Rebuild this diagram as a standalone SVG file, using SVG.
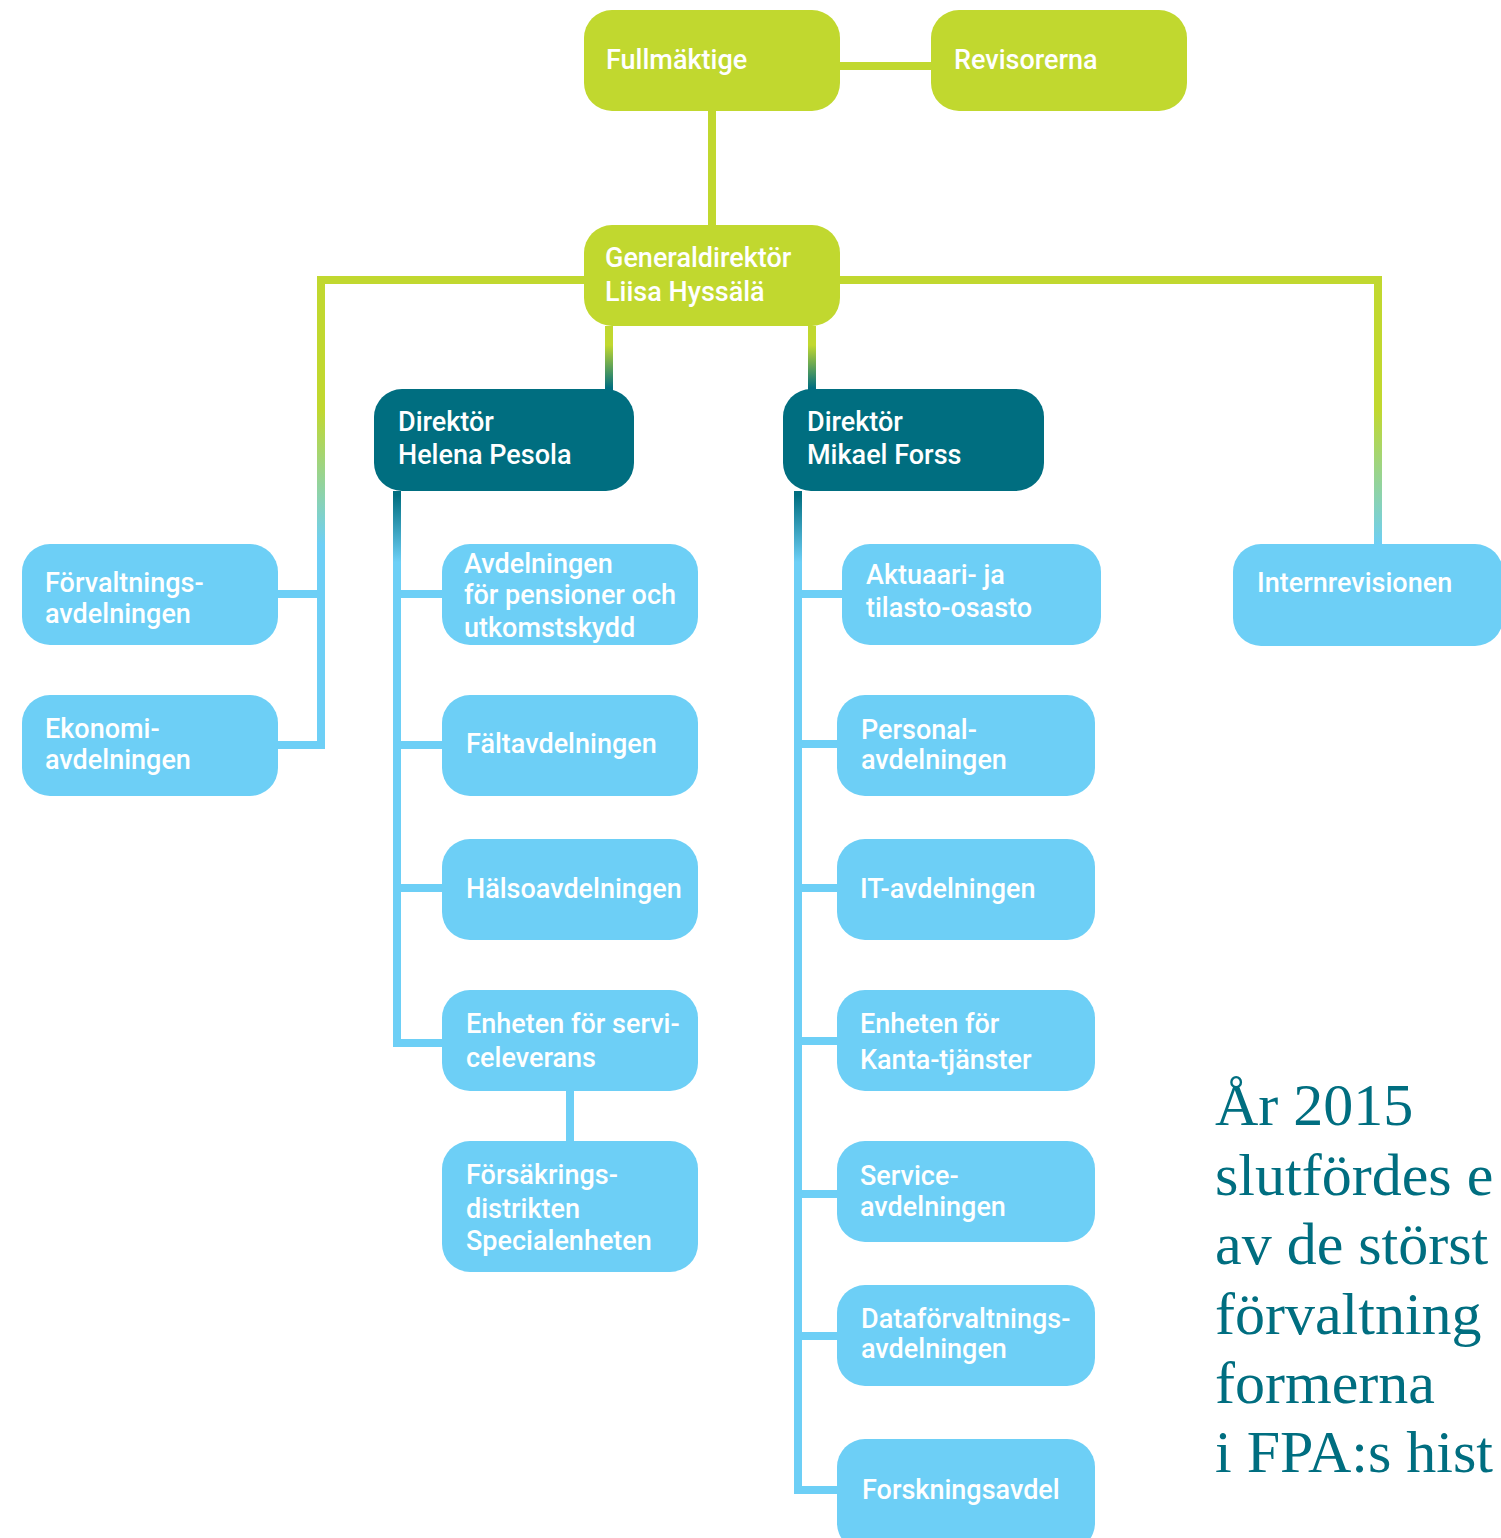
<svg xmlns="http://www.w3.org/2000/svg" width="1501" height="1538" viewBox="0 0 1501 1538">
<style>
.lime{fill:#c1d82f}
.dark{fill:#006e80}
.blue{fill:#6dcff6}
.t{font-family:Roboto,"Liberation Sans",sans-serif;font-weight:500;font-size:27px;fill:#ffffff}
.c{fill:none;stroke-width:8;stroke-linejoin:miter;stroke-linecap:butt}
.serif{font-family:"Liberation Serif","DejaVu Serif",serif;font-size:60px;fill:#006e80}
</style>
<defs>
<linearGradient id="gLB" gradientUnits="userSpaceOnUse" x1="0" y1="410" x2="0" y2="545">
<stop offset="0" stop-color="#c1d82f"/><stop offset="1" stop-color="#6dcff6"/>
</linearGradient>
<linearGradient id="gLD" gradientUnits="userSpaceOnUse" x1="0" y1="345" x2="0" y2="388">
<stop offset="0" stop-color="#c1d82f"/><stop offset="1" stop-color="#006e80"/>
</linearGradient>
<linearGradient id="gDB" gradientUnits="userSpaceOnUse" x1="0" y1="495" x2="0" y2="562">
<stop offset="0" stop-color="#006e80"/><stop offset="1" stop-color="#6dcff6"/>
</linearGradient>
</defs>
<g id="connectors">
<path class="c" stroke="#c1d82f" d="M839,66 H931 M712,111 V225"/>
<path class="c" stroke="url(#gLB)" d="M278,745 H321 V280 H1378 V544 M278,594 H321"/>
<path class="c" stroke="url(#gLD)" d="M609,326 V390 M812,326 V390"/>
<path class="c" stroke="url(#gDB)" d="M442,1043 H397 V491 M397,594 H442 M397,745 H442 M397,888 H442"/>
<path class="c" stroke="#6dcff6" d="M570,1091 V1142"/>
<path class="c" stroke="url(#gDB)" d="M837,1490 H798 V491 M798,594 H843 M798,744 H837 M798,888 H837 M798,1041 H837 M798,1194 H837 M798,1336 H837"/>
</g>
<g id="fullmaktige"><rect class="lime" x="584" y="10" width="256" height="101" rx="28"/><text class="t" x="606" y="69">Fullmäktige</text></g>
<g id="revisorerna"><rect class="lime" x="931" y="10" width="256" height="101" rx="28"/><text class="t" x="954" y="69">Revisorerna</text></g>
<g id="generaldirektor"><rect class="lime" x="584" y="225" width="256" height="101" rx="28"/><text class="t" x="605" y="267">Generaldirektör</text><text class="t" x="605" y="301">Liisa Hyssälä</text></g>
<g id="direktor-pesola"><rect class="dark" x="374" y="389" width="260" height="102" rx="28"/><text class="t" x="398" y="431">Direktör</text><text class="t" x="398" y="464">Helena Pesola</text></g>
<g id="direktor-forss"><rect class="dark" x="783" y="389" width="261" height="102" rx="28"/><text class="t" x="807" y="431">Direktör</text><text class="t" x="807" y="464">Mikael Forss</text></g>
<g id="forvaltningsavdelningen"><rect class="blue" x="22" y="544" width="256" height="101" rx="28"/><text class="t" x="45" y="592">Förvaltnings-</text><text class="t" x="45" y="623">avdelningen</text></g>
<g id="ekonomiavdelningen"><rect class="blue" x="22" y="695" width="256" height="101" rx="28"/><text class="t" x="45" y="738">Ekonomi-</text><text class="t" x="45" y="769">avdelningen</text></g>
<g id="avdelningen-pensioner"><rect class="blue" x="442" y="544" width="256" height="101" rx="28"/><text class="t" x="464" y="573">Avdelningen</text><text class="t" x="464" y="604">för pensioner och</text><text class="t" x="464" y="637">utkomstskydd</text></g>
<g id="faltavdelningen"><rect class="blue" x="442" y="695" width="256" height="101" rx="28"/><text class="t" x="466" y="753">Fältavdelningen</text></g>
<g id="halsoavdelningen"><rect class="blue" x="442" y="839" width="256" height="101" rx="28"/><text class="t" x="466" y="898">Hälsoavdelningen</text></g>
<g id="enheten-serviceleverans"><rect class="blue" x="442" y="990" width="256" height="101" rx="28"/><text class="t" x="466" y="1033">Enheten för servi-</text><text class="t" x="466" y="1067">celeverans</text></g>
<g id="forsakringsdistrikten"><rect class="blue" x="442" y="1141" width="256" height="131" rx="28"/><text class="t" x="466" y="1184">Försäkrings-</text><text class="t" x="466" y="1218">distrikten</text><text class="t" x="466" y="1250">Specialenheten</text></g>
<g id="aktuaari"><rect class="blue" x="842" y="544" width="259" height="101" rx="28"/><text class="t" x="866" y="584">Aktuaari- ja</text><text class="t" x="866" y="617">tilasto-osasto</text></g>
<g id="personalavdelningen"><rect class="blue" x="837" y="695" width="258" height="101" rx="28"/><text class="t" x="861" y="739">Personal-</text><text class="t" x="861" y="769">avdelningen</text></g>
<g id="it-avdelningen"><rect class="blue" x="837" y="839" width="258" height="101" rx="28"/><text class="t" x="860" y="898">IT-avdelningen</text></g>
<g id="enheten-kanta"><rect class="blue" x="837" y="990" width="258" height="101" rx="28"/><text class="t" x="860" y="1033">Enheten för</text><text class="t" x="860" y="1069">Kanta-tjänster</text></g>
<g id="serviceavdelningen"><rect class="blue" x="837" y="1141" width="258" height="101" rx="28"/><text class="t" x="860" y="1185">Service-</text><text class="t" x="860" y="1216">avdelningen</text></g>
<g id="dataforvaltningsavdelningen"><rect class="blue" x="837" y="1285" width="258" height="101" rx="28"/><text class="t" x="861" y="1328">Dataförvaltnings-</text><text class="t" x="861" y="1358">avdelningen</text></g>
<g id="forskningsavdelningen"><rect class="blue" x="837" y="1439" width="258" height="112" rx="28"/><text class="t" x="862" y="1499">Forskningsavdel</text></g>
<g id="internrevisionen"><rect class="blue" x="1233" y="544" width="270" height="102" rx="28"/><text class="t" x="1257" y="592">Internrevisionen</text></g>
<g id="quote">
<text class="serif" x="1215" y="1125">År 2015</text>
<text class="serif" x="1215" y="1195">slutfördes e</text>
<text class="serif" x="1215" y="1264">av de störst</text>
<text class="serif" x="1215" y="1334">förvaltning</text>
<text class="serif" x="1215" y="1403">formerna</text>
<text class="serif" x="1215" y="1472">i FPA:s hist</text>
</g>
</svg>
